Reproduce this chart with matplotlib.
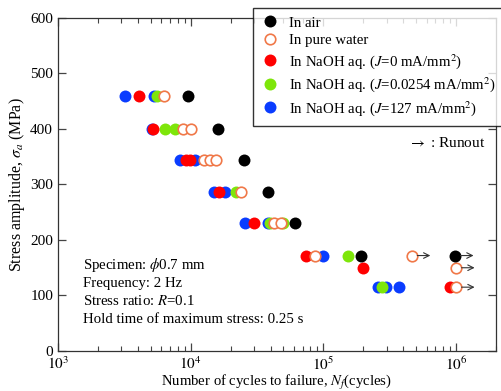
import matplotlib
matplotlib.use("Agg")
from matplotlib import pyplot as plt
from matplotlib.ticker import LogLocator, FixedLocator, NullFormatter

plt.rcParams["font.family"] = ["Liberation Serif", "DejaVu Serif"]
plt.rcParams["mathtext.fontset"] = "stix"

# fatigue data: (cycles, stress amplitude MPa)
air_n = [9620, 16000, 25200, 38100, 61200, 193000]
air_s = [460, 400, 345, 287, 230, 172]
air_run_n = [982000]
air_run_s = [172]

water_n = [6270, 8750, 10000, 12530, 14070, 15420, 23800, 42300, 47600, 87100]
water_s = [460, 400, 400, 345, 345, 345, 287, 230, 230, 172]
water_run_n = [464000, 1000000, 1000000]
water_run_s = [172, 150, 115]

j0_n = [4080, 5240, 9160, 9930, 16330, 29800, 74100, 197600, 902000]
j0_s = [460, 400, 345, 345, 287, 230, 172, 150, 115]

j0254_n = [5590, 6410, 7620, 22000, 39700, 49400, 152500, 279000]
j0254_s = [460, 400, 400, 287, 230, 230, 172, 115]

j127_n = [3190, 5300, 5090, 8350, 10700, 14960, 18000, 25800, 38100, 98900, 256000, 299000, 372000]
j127_s = [460, 460, 400, 345, 345, 287, 287, 230, 230, 172, 115, 115, 115]

notes = [
    r"Specimen: $\phi$0.7 mm",
    "Frequency: 2 Hz",
    r"Stress ratio: $R$=0.1",
    "Hold time of maximum stress: 0.25 s",
]


def main():
    fig = plt.figure(figsize=(5.02, 3.91), dpi=100)
    ax = fig.add_axes([0.1155, 0.1023, 0.8725, 0.8517])

    ms = 8.6
    ax.plot(j127_n, j127_s, "o", color="#0a3cff", ms=ms, mew=0, zorder=3,
            label=r"In NaOH aq. ($J$=127 mA/mm$^2$)")
    ax.plot(j0254_n, j0254_s, "o", color="#7ee60a", ms=ms, mew=0, zorder=4,
            label=r"In NaOH aq. ($J$=0.0254 mA/mm$^2$)")
    ax.plot(j0_n, j0_s, "o", color="#ff0000", ms=ms, mew=0, zorder=5,
            label=r"In NaOH aq. ($J$=0 mA/mm$^2$)")
    ax.plot(water_n + water_run_n, water_s + water_run_s, "o", mfc="white",
            mec="#f07848", mew=1.2, ms=ms - 1, zorder=6, label="In pure water")
    ax.plot(air_n + air_run_n, air_s + air_run_s, "o", color="black", ms=ms,
            mew=0, zorder=7, label="In air")

    # runout arrows
    for n, s in zip(water_run_n + air_run_n, water_run_s + air_run_s):
        ax.annotate("", xy=(n * 1.38, s), xytext=(n * 1.1, s),
                    arrowprops=dict(arrowstyle="->", color="#333333", lw=0.8,
                                    shrinkA=0, shrinkB=0), zorder=8)

    ax.set_xscale("log")
    ax.set_xlim(1e3, 2e6)
    ax.set_ylim(0, 600)
    ax.xaxis.set_major_locator(FixedLocator([1e3, 1e4, 1e5, 1e6]))
    ax.xaxis.set_minor_locator(LogLocator(base=10, subs=range(2, 10)))
    ax.xaxis.set_minor_formatter(NullFormatter())
    ax.set_xticklabels([r"$10^3$", r"$10^4$", r"$10^5$", r"$10^6$"])
    ax.set_yticks(range(0, 601, 100))

    ax.tick_params(which="both", direction="in", top=True, right=True,
                   labelsize=11, color="#444444")
    ax.tick_params(axis="x", which="major", pad=3.5)
    ax.tick_params(which="major", length=6, width=0.9)
    ax.tick_params(which="minor", length=3.5, width=0.8)
    for sp in ax.spines.values():
        sp.set_linewidth(0.9)
        sp.set_color("#333333")

    ax.set_xlabel(r"Number of cycles to failure, $N_f$(cycles)", fontsize=10.6, labelpad=-0.5)
    ax.set_ylabel(r"Stress amplitude, $\sigma_a$ (MPa)", fontsize=11.5, labelpad=2)

    for i, t in enumerate(notes):
        ax.text(0.057, 0.246 - i * 0.0535, t, transform=ax.transAxes,
                fontsize=10.7, va="baseline")

    ax.text(0.975, 0.625, r"$\rightarrow$ : Runout", transform=ax.transAxes,
            fontsize=11, ha="right", va="center")

    handles, labels = ax.get_legend_handles_labels()
    order = [4, 3, 2, 1, 0]
    leg = fig.legend([handles[i] for i in order], [labels[i] for i in order],
                     loc="upper left", bbox_to_anchor=(253 / 502, 1 - 8 / 391),
                     fontsize=10.7, frameon=True, fancybox=False, borderpad=0.55,
                     labelspacing=0.3, handletextpad=0.7, handlelength=1.2,
                     borderaxespad=0)
    leg.get_frame().set_edgecolor("black")
    leg.get_frame().set_linewidth(1.0)
    leg.set_zorder(10)

    fig.savefig("out.png", dpi=100)
    plt.close(fig)


if __name__ == "__main__":
    main()
